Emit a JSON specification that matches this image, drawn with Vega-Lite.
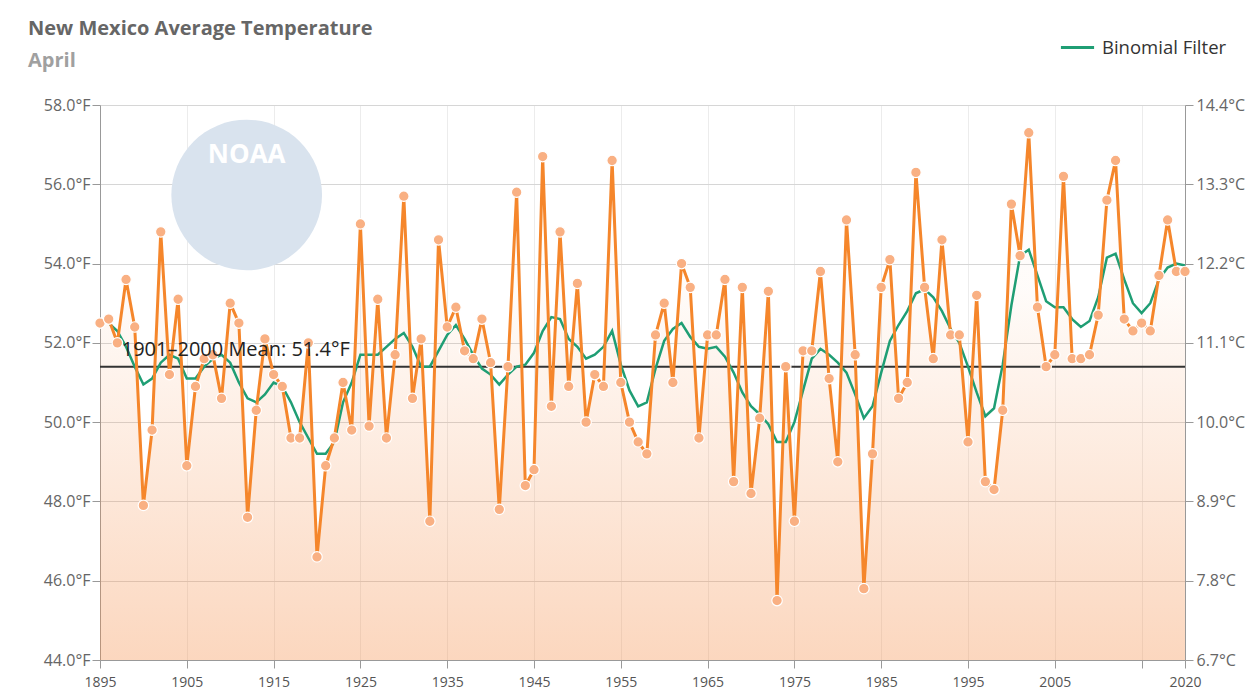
{
  "$schema": "https://vega.github.io/schema/vega-lite/v6.json",
  "width": 1085,
  "height": 555,
  "autosize": "none",
  "padding": {"left": 100, "top": 105, "right": 69, "bottom": 33},
  "background": "white",
  "config": {"font": "Open Sans", "view": {"stroke": null}},
  "title": {
    "text": "New Mexico Average Temperature",
    "subtitle": "April",
    "anchor": "start",
    "frame": "group",
    "dx": -72,
    "offset": -42,
    "font": "Open Sans",
    "fontSize": 20,
    "fontWeight": "bold",
    "color": "#666666",
    "subtitleFont": "Open Sans",
    "subtitleFontSize": 20,
    "subtitleFontWeight": "bold",
    "subtitleColor": "#a0a0a0",
    "subtitlePadding": 12
  },
  "datasets": {
    "temps": [
      {"year": 1895, "temp": 52.5, "filt": 52.6},
      {"year": 1896, "temp": 52.6, "filt": 52.5},
      {"year": 1897, "temp": 52.0, "filt": 52.3},
      {"year": 1898, "temp": 53.6, "filt": 51.9},
      {"year": 1899, "temp": 52.4, "filt": 51.4},
      {"year": 1900, "temp": 47.9, "filt": 50.95},
      {"year": 1901, "temp": 49.8, "filt": 51.1},
      {"year": 1902, "temp": 54.8, "filt": 51.5},
      {"year": 1903, "temp": 51.2, "filt": 51.7},
      {"year": 1904, "temp": 53.1, "filt": 51.6},
      {"year": 1905, "temp": 48.9, "filt": 51.1},
      {"year": 1906, "temp": 50.9, "filt": 51.1},
      {"year": 1907, "temp": 51.6, "filt": 51.4},
      {"year": 1908, "temp": 51.7, "filt": 51.6},
      {"year": 1909, "temp": 50.6, "filt": 51.7},
      {"year": 1910, "temp": 53.0, "filt": 51.5},
      {"year": 1911, "temp": 52.5, "filt": 51.0},
      {"year": 1912, "temp": 47.6, "filt": 50.6},
      {"year": 1913, "temp": 50.3, "filt": 50.5},
      {"year": 1914, "temp": 52.1, "filt": 50.7},
      {"year": 1915, "temp": 51.2, "filt": 51.0},
      {"year": 1916, "temp": 50.9, "filt": 50.9},
      {"year": 1917, "temp": 49.6, "filt": 50.5},
      {"year": 1918, "temp": 49.6, "filt": 50.0},
      {"year": 1919, "temp": 52.0, "filt": 49.6},
      {"year": 1920, "temp": 46.6, "filt": 49.2},
      {"year": 1921, "temp": 48.9, "filt": 49.2},
      {"year": 1922, "temp": 49.6, "filt": 49.5},
      {"year": 1923, "temp": 51.0, "filt": 50.5},
      {"year": 1924, "temp": 49.8, "filt": 51.0},
      {"year": 1925, "temp": 55.0, "filt": 51.7},
      {"year": 1926, "temp": 49.9, "filt": 51.7},
      {"year": 1927, "temp": 53.1, "filt": 51.7},
      {"year": 1928, "temp": 49.6, "filt": 51.9},
      {"year": 1929, "temp": 51.7, "filt": 52.1},
      {"year": 1930, "temp": 55.7, "filt": 52.25},
      {"year": 1931, "temp": 50.6, "filt": 51.9},
      {"year": 1932, "temp": 52.1, "filt": 51.4},
      {"year": 1933, "temp": 47.5, "filt": 51.4},
      {"year": 1934, "temp": 54.6, "filt": 51.8},
      {"year": 1935, "temp": 52.4, "filt": 52.2},
      {"year": 1936, "temp": 52.9, "filt": 52.45},
      {"year": 1937, "temp": 51.8, "filt": 52.1},
      {"year": 1938, "temp": 51.6, "filt": 51.7},
      {"year": 1939, "temp": 52.6, "filt": 51.35},
      {"year": 1940, "temp": 51.5, "filt": 51.2},
      {"year": 1941, "temp": 47.8, "filt": 50.95},
      {"year": 1942, "temp": 51.4, "filt": 51.2},
      {"year": 1943, "temp": 55.8, "filt": 51.4},
      {"year": 1944, "temp": 48.4, "filt": 51.45},
      {"year": 1945, "temp": 48.8, "filt": 51.75},
      {"year": 1946, "temp": 56.7, "filt": 52.3},
      {"year": 1947, "temp": 50.4, "filt": 52.65},
      {"year": 1948, "temp": 54.8, "filt": 52.6},
      {"year": 1949, "temp": 50.9, "filt": 52.1},
      {"year": 1950, "temp": 53.5, "filt": 51.9},
      {"year": 1951, "temp": 50.0, "filt": 51.6},
      {"year": 1952, "temp": 51.2, "filt": 51.7},
      {"year": 1953, "temp": 50.9, "filt": 51.9},
      {"year": 1954, "temp": 56.6, "filt": 52.3},
      {"year": 1955, "temp": 51.0, "filt": 51.45},
      {"year": 1956, "temp": 50.0, "filt": 50.8},
      {"year": 1957, "temp": 49.5, "filt": 50.4},
      {"year": 1958, "temp": 49.2, "filt": 50.5},
      {"year": 1959, "temp": 52.2, "filt": 51.35},
      {"year": 1960, "temp": 53.0, "filt": 52.05},
      {"year": 1961, "temp": 51.0, "filt": 52.35},
      {"year": 1962, "temp": 54.0, "filt": 52.5},
      {"year": 1963, "temp": 53.4, "filt": 52.15},
      {"year": 1964, "temp": 49.6, "filt": 51.9},
      {"year": 1965, "temp": 52.2, "filt": 51.85},
      {"year": 1966, "temp": 52.2, "filt": 51.9},
      {"year": 1967, "temp": 53.6, "filt": 51.65},
      {"year": 1968, "temp": 48.5, "filt": 51.25},
      {"year": 1969, "temp": 53.4, "filt": 50.75},
      {"year": 1970, "temp": 48.2, "filt": 50.4},
      {"year": 1971, "temp": 50.1, "filt": 50.2},
      {"year": 1972, "temp": 53.3, "filt": 49.95},
      {"year": 1973, "temp": 45.5, "filt": 49.5},
      {"year": 1974, "temp": 51.4, "filt": 49.5},
      {"year": 1975, "temp": 47.5, "filt": 50.0},
      {"year": 1976, "temp": 51.8, "filt": 50.8},
      {"year": 1977, "temp": 51.8, "filt": 51.6},
      {"year": 1978, "temp": 53.8, "filt": 51.85},
      {"year": 1979, "temp": 51.1, "filt": 51.7},
      {"year": 1980, "temp": 49.0, "filt": 51.5},
      {"year": 1981, "temp": 55.1, "filt": 51.25},
      {"year": 1982, "temp": 51.7, "filt": 50.7},
      {"year": 1983, "temp": 45.8, "filt": 50.1},
      {"year": 1984, "temp": 49.2, "filt": 50.4},
      {"year": 1985, "temp": 53.4, "filt": 51.25},
      {"year": 1986, "temp": 54.1, "filt": 52.05},
      {"year": 1987, "temp": 50.6, "filt": 52.45},
      {"year": 1988, "temp": 51.0, "filt": 52.8},
      {"year": 1989, "temp": 56.3, "filt": 53.25},
      {"year": 1990, "temp": 53.4, "filt": 53.35},
      {"year": 1991, "temp": 51.6, "filt": 53.15},
      {"year": 1992, "temp": 54.6, "filt": 52.8},
      {"year": 1993, "temp": 52.2, "filt": 52.35},
      {"year": 1994, "temp": 52.2, "filt": 52.0},
      {"year": 1995, "temp": 49.5, "filt": 51.4},
      {"year": 1996, "temp": 53.2, "filt": 50.75},
      {"year": 1997, "temp": 48.5, "filt": 50.15},
      {"year": 1998, "temp": 48.3, "filt": 50.35},
      {"year": 1999, "temp": 50.3, "filt": 51.45},
      {"year": 2000, "temp": 55.5, "filt": 52.95},
      {"year": 2001, "temp": 54.2, "filt": 54.2},
      {"year": 2002, "temp": 57.3, "filt": 54.35},
      {"year": 2003, "temp": 52.9, "filt": 53.7},
      {"year": 2004, "temp": 51.4, "filt": 53.05},
      {"year": 2005, "temp": 51.7, "filt": 52.9},
      {"year": 2006, "temp": 56.2, "filt": 52.9},
      {"year": 2007, "temp": 51.6, "filt": 52.6},
      {"year": 2008, "temp": 51.6, "filt": 52.4},
      {"year": 2009, "temp": 51.7, "filt": 52.55},
      {"year": 2010, "temp": 52.7, "filt": 53.15},
      {"year": 2011, "temp": 55.6, "filt": 54.15},
      {"year": 2012, "temp": 56.6, "filt": 54.25},
      {"year": 2013, "temp": 52.6, "filt": 53.6},
      {"year": 2014, "temp": 52.3, "filt": 53.0},
      {"year": 2015, "temp": 52.5, "filt": 52.75},
      {"year": 2016, "temp": 52.3, "filt": 53.0},
      {"year": 2017, "temp": 53.7, "filt": 53.6},
      {"year": 2018, "temp": 55.1, "filt": 53.9},
      {"year": 2019, "temp": 53.8, "filt": 54.0},
      {"year": 2020, "temp": 53.8, "filt": 53.95}
    ],
    "logo": [{"year": 1911.9, "temp": 55.73, "label": "NOAA", "ty": 56.74}],
    "mean": [{"x1": 1895, "x2": 2020, "temp": 51.4, "lx": 1897.5, "label": "1901–2000 Mean: 51.4°F"}]
  },
  "layer": [
    {
      "data": {"name": "logo"},
      "mark": {"type": "circle", "size": 22700, "fill": "#d9e3ee", "opacity": 1},
      "encoding": {
        "x": {"field": "year", "type": "quantitative", "scale": {"domain": [1895, 2020], "nice": false, "zero": false},
          "axis": {"title": null, "values": [1895, 1905, 1915, 1925, 1935, 1945, 1955, 1965, 1975, 1985, 1995, 2005, 2015, 2020], "format": "d", "labelExpr": "datum.value == 2015 ? '' : datum.label", "grid": true, "gridColor": "#ececec", "domainColor": "#999999", "tickColor": "#999999", "tickSize": 8, "labelFont": "Open Sans", "labelFontSize": 14, "labelColor": "#555555", "labelPadding": 7, "labelFlush": false, "labelOverlap": false}},
        "y": {"field": "temp", "type": "quantitative", "scale": {"domain": [44, 58], "nice": false, "zero": false}, "axis": null}
      }
    },
    {
      "data": {"name": "logo"},
      "mark": {"type": "text", "font": "Open Sans", "fontWeight": "bold", "fontSize": 26, "color": "white", "align": "center", "baseline": "middle"},
      "encoding": {
        "x": {"field": "year", "type": "quantitative",
          "axis": {"title": null, "values": [1895, 1905, 1915, 1925, 1935, 1945, 1955, 1965, 1975, 1985, 1995, 2005, 2015, 2020], "format": "d", "labelExpr": "datum.value == 2015 ? '' : datum.label", "grid": true, "gridColor": "#ececec", "domainColor": "#999999", "tickColor": "#999999", "tickSize": 8, "labelFont": "Open Sans", "labelFontSize": 14, "labelColor": "#555555", "labelPadding": 7, "labelFlush": false, "labelOverlap": false}},
        "y": {"field": "ty", "type": "quantitative", "axis": null},
        "text": {"field": "label"}
      }
    },
    {
      "data": {"name": "temps"},
      "mark": {"type": "area", "line": false, "fill": {"gradient": "linear", "x1": 0, "y1": 0, "x2": 0, "y2": 1, "stops": [{"offset": 0, "color": "rgba(245,140,70,0)"}, {"offset": 0.3, "color": "rgba(245,140,70,0.03)"}, {"offset": 1, "color": "rgba(245,140,70,0.35)"}]}},
      "encoding": {
        "x": {"field": "year", "type": "quantitative",
          "axis": {"title": null, "values": [1895, 1905, 1915, 1925, 1935, 1945, 1955, 1965, 1975, 1985, 1995, 2005, 2015, 2020], "format": "d", "labelExpr": "datum.value == 2015 ? '' : datum.label", "grid": true, "gridColor": "#ececec", "domainColor": "#999999", "tickColor": "#999999", "tickSize": 8, "labelFont": "Open Sans", "labelFontSize": 14, "labelColor": "#555555", "labelPadding": 7, "labelFlush": false, "labelOverlap": false}},
        "y": {"field": "temp", "type": "quantitative",
          "axis": {"orient": "left", "title": null, "values": [44, 46, 48, 50, 52, 54, 56, 58], "labelExpr": "format(datum.value, '.1f') + '°F'", "grid": true, "gridColor": "#d6d6d6", "domainColor": "#999999", "tickColor": "#999999", "tickSize": 8, "labelFont": "Open Sans", "labelFontSize": 16, "labelColor": "#666666", "labelPadding": 2, "labelFlush": false}},
        "y2": {"datum": 44}
      }
    },
    {
      "data": {"name": "mean"},
      "mark": {"type": "rule", "color": "#333333", "strokeWidth": 2},
      "encoding": {
        "x": {"field": "x1", "type": "quantitative",
          "axis": {"title": null, "values": [1895, 1905, 1915, 1925, 1935, 1945, 1955, 1965, 1975, 1985, 1995, 2005, 2015, 2020], "format": "d", "labelExpr": "datum.value == 2015 ? '' : datum.label", "grid": true, "gridColor": "#ececec", "domainColor": "#999999", "tickColor": "#999999", "tickSize": 8, "labelFont": "Open Sans", "labelFontSize": 14, "labelColor": "#555555", "labelPadding": 7, "labelFlush": false, "labelOverlap": false}},
        "x2": {"field": "x2"},
        "y": {"field": "temp", "type": "quantitative", "axis": null}
      }
    },
    {
      "data": {"name": "temps"},
      "mark": {"type": "line", "color": "#1f9e74", "strokeWidth": 2.5},
      "encoding": {
        "x": {"field": "year", "type": "quantitative",
          "axis": {"title": null, "values": [1895, 1905, 1915, 1925, 1935, 1945, 1955, 1965, 1975, 1985, 1995, 2005, 2015, 2020], "format": "d", "labelExpr": "datum.value == 2015 ? '' : datum.label", "grid": true, "gridColor": "#ececec", "domainColor": "#999999", "tickColor": "#999999", "tickSize": 8, "labelFont": "Open Sans", "labelFontSize": 14, "labelColor": "#555555", "labelPadding": 7, "labelFlush": false, "labelOverlap": false}},
        "y": {"field": "filt", "type": "quantitative", "axis": null},
        "color": {"datum": "Binomial Filter", "type": "nominal", "scale": {"range": ["#1f9e74"]},
          "legend": {"orient": "none", "legendX": 959, "legendY": -76, "title": null, "symbolType": "stroke", "symbolStrokeWidth": 3, "symbolSize": 1100, "labelFont": "Open Sans", "labelFontSize": 18.5, "labelColor": "#333333", "labelOffset": 6}}
      }
    },
    {
      "data": {"name": "temps"},
      "mark": {"type": "line", "color": "#f5862b", "strokeWidth": 3},
      "encoding": {
        "x": {"field": "year", "type": "quantitative",
          "axis": {"title": null, "values": [1895, 1905, 1915, 1925, 1935, 1945, 1955, 1965, 1975, 1985, 1995, 2005, 2015, 2020], "format": "d", "labelExpr": "datum.value == 2015 ? '' : datum.label", "grid": true, "gridColor": "#ececec", "domainColor": "#999999", "tickColor": "#999999", "tickSize": 8, "labelFont": "Open Sans", "labelFontSize": 14, "labelColor": "#555555", "labelPadding": 7, "labelFlush": false, "labelOverlap": false}},
        "y": {"field": "temp", "type": "quantitative", "axis": null}
      }
    },
    {
      "data": {"name": "temps"},
      "mark": {"type": "circle", "size": 110, "fill": "#f9b083", "stroke": "white", "strokeWidth": 1.2, "opacity": 1},
      "encoding": {
        "x": {"field": "year", "type": "quantitative",
          "axis": {"title": null, "values": [1895, 1905, 1915, 1925, 1935, 1945, 1955, 1965, 1975, 1985, 1995, 2005, 2015, 2020], "format": "d", "labelExpr": "datum.value == 2015 ? '' : datum.label", "grid": true, "gridColor": "#ececec", "domainColor": "#999999", "tickColor": "#999999", "tickSize": 8, "labelFont": "Open Sans", "labelFontSize": 14, "labelColor": "#555555", "labelPadding": 7, "labelFlush": false, "labelOverlap": false}},
        "y": {"field": "temp", "type": "quantitative",
          "axis": {"orient": "right", "title": null, "values": [44, 46, 48, 50, 52, 54, 56, 58], "labelExpr": "format((datum.value - 32) * 5 / 9, '.1f') + '°C'", "grid": false, "domainColor": "#999999", "tickColor": "#999999", "tickSize": 8, "labelFont": "Open Sans", "labelFontSize": 16, "labelColor": "#666666", "labelPadding": 3, "labelFlush": false}}
      }
    },
    {
      "data": {"name": "mean"},
      "mark": {"type": "text", "font": "Open Sans", "fontSize": 20, "color": "#222222", "align": "left", "baseline": "middle", "dy": -17},
      "encoding": {
        "x": {"field": "lx", "type": "quantitative",
          "axis": {"title": null, "values": [1895, 1905, 1915, 1925, 1935, 1945, 1955, 1965, 1975, 1985, 1995, 2005, 2015, 2020], "format": "d", "labelExpr": "datum.value == 2015 ? '' : datum.label", "grid": true, "gridColor": "#ececec", "domainColor": "#999999", "tickColor": "#999999", "tickSize": 8, "labelFont": "Open Sans", "labelFontSize": 14, "labelColor": "#555555", "labelPadding": 7, "labelFlush": false, "labelOverlap": false}},
        "y": {"field": "temp", "type": "quantitative", "axis": null},
        "text": {"field": "label"}
      }
    }
  ],
  "resolve": {"axis": {"y": "independent"}}
}
